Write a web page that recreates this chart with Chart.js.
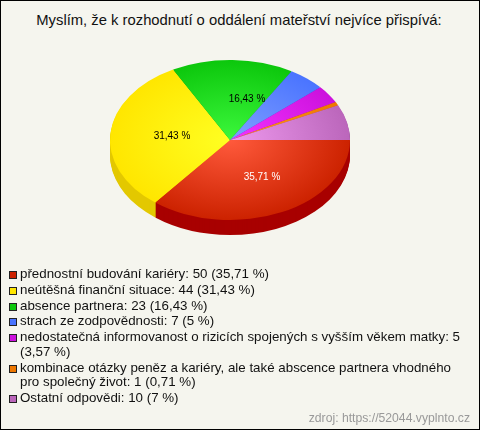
<!DOCTYPE html>
<html lang="cs">
<head>
<meta charset="utf-8">
<title>Myslím, že k rozhodnutí o oddálení mateřství</title>
<script src="https://cdn.jsdelivr.net/npm/chart.js@4"></script>
<style>
    html, body { margin: 0; padding: 0; }
    #box {
        position: relative; width: 480px; height: 430px; box-sizing: border-box;
        border: 1px solid #000; background: #f5f5ee; overflow: hidden;
        font-family: "Liberation Sans", Arial, sans-serif; color: #111;
    }
    #heading { position: absolute; left: -2px; right: 0; top: 11px; text-align: center; font-size: 14.8px; line-height: 16px; }
    #pie { position: absolute; left: -1px; top: -1px; }
    #legend { position: absolute; left: 8px; top: 266px; width: 456px; font-size: 13.33px; line-height: 14.6px; }
    #legend div { position: relative; padding-left: 11px; margin-bottom: 1.2px; }
    #legend i { position: absolute; left: 0; top: 4px; width: 6px; height: 6px; border: 1px solid #222; }
    #source { position: absolute; right: 9px; bottom: 4px; font-size: 12.2px; color: #999; }
</style>
</head>
<body>
<div id="box">
    <div id="heading"></div>
    <canvas id="pie" width="480" height="270"></canvas>
    <div id="legend"></div>
    <div id="source">zdroj: https://52044.vyplnto.cz</div>
</div>
<script>
const titleText = 'Myslím, že k rozhodnutí o oddálení mateřství nejvíce přispívá:';
const categories = [
    'přednostní budování kariéry',
    'neútěšná finanční situace',
    'absence partnera',
    'strach ze zodpovědnosti',
    'nedostatečná informovanost o rizicích spojených s vyšším věkem matky',
    'kombinace otázky peněz a kariéry, ale také abscence partnera vhodného pro společný život',
    'Ostatní odpovědi'
];
const counts = [50, 44, 23, 7, 5, 1, 10];
const percents = ['35,71', '31,43', '16,43', '5', '3,57', '0,71', '7'];
const topColors = ['#cc2200', '#ffe600', '#0cc70c', '#4a74ff', '#cc11dd', '#ee7700', '#bb66bb'];
const lightColors = ['#ff5a3c', '#ffff22', '#3cf83c', '#7f9fff', '#f433ff', '#ff9a22', '#ee99ee'];
const sideColors = ['#a80000', '#e3c800', '#0a9a0a', '#3355cc', '#9900aa', '#bb5500', '#8f4f8f'];

// pie is drawn as a circle and squashed, this is the flattening
const squash = 2 / 3;
const depth = 15;
// where the percent labels sit relative to the pie centre (px)
const labelNudge = [[32, 37], [-58, -4], [17, -41]];
const labelColors = ['#fff', '#000', '#000'];

document.getElementById('heading').innerText = titleText;
document.getElementById('legend').innerHTML = categories.map((c, i) =>
    `<div><i style="background:${topColors[i]}"></i>${c}: ${counts[i]} (${percents[i]} %)</div>`).join('');

const tilt = {
    id: 'tilt',
    beforeDatasetsDraw(chart) {
        const ctx = chart.ctx;
        const arcs = chart.getDatasetMeta(0).data;
        const { x, y, outerRadius } = arcs[0];
        // wall of the pie
        for (let d = depth; d > 0; d--) {
            arcs.forEach((a, i) => {
                ctx.save();
                ctx.translate(x, y + d);
                ctx.scale(1, squash);
                ctx.beginPath();
                ctx.moveTo(0, 0);
                ctx.arc(0, 0, outerRadius, a.startAngle, a.endAngle);
                ctx.closePath();
                ctx.fillStyle = sideColors[i];
                ctx.fill();
                ctx.restore();
            });
        }
        ctx.save();
        ctx.translate(x, y);
        ctx.scale(1, squash);
        ctx.translate(-x, -y);
    },
    afterDatasetsDraw(chart) {
        const ctx = chart.ctx;
        ctx.restore();
        const arcs = chart.getDatasetMeta(0).data;
        const { x, y } = arcs[0];
        ctx.save();
        ctx.font = '10px "Liberation Sans", Arial, sans-serif';
        ctx.textAlign = 'center';
        ctx.textBaseline = 'middle';
        labelNudge.forEach((n, i) => {
            ctx.fillStyle = labelColors[i];
            ctx.fillText(percents[i] + ' %', x + n[0], y + n[1]);
        });
        ctx.restore();
    }
};

new Chart(document.getElementById('pie'), {
    type: 'pie',
    data: {
        labels: categories,
        datasets: [{
            data: counts,
            borderWidth: 0,
            backgroundColor(c) {
                const area = c.chart.chartArea;
                if (!area) return topColors[c.dataIndex];
                const cx = (area.left + area.right) / 2;
                const cy = (area.top + area.bottom) / 2;
                const g = c.chart.ctx.createRadialGradient(cx, cy, 0, cx, cy, 120);
                g.addColorStop(0, lightColors[c.dataIndex]);
                g.addColorStop(1, topColors[c.dataIndex]);
                return g;
            }
        }]
    },
    options: {
        responsive: false,
        animation: false,
        rotation: 90,
        layout: { padding: { left: 110, right: 130, top: 20, bottom: 10 } },
        plugins: { legend: { display: false }, tooltip: { enabled: false } }
    },
    plugins: [tilt]
});
</script>
</body>
</html>
